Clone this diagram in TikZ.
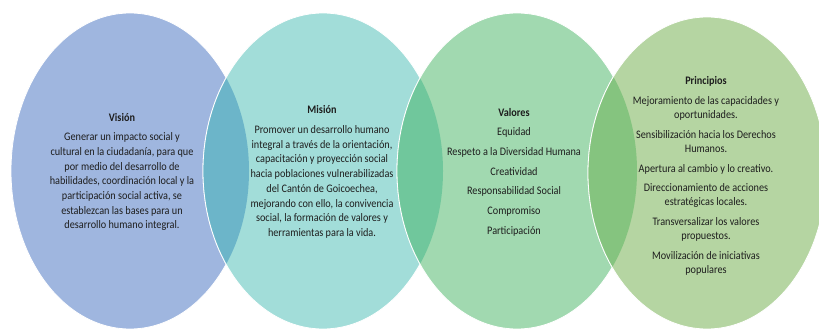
\documentclass[tikz,border=0pt]{standalone}
\usepackage{fontspec}
\setmainfont{Carlito}[FakeStretch=0.89]
\definecolor{azul}{HTML}{9FB6DF}
\definecolor{turquesa}{HTML}{A2DDD9}
\definecolor{verde}{HTML}{A1D9B0}
\definecolor{oliva}{HTML}{B5D5A2}
\definecolor{cruceA}{HTML}{6CB5C9}
\definecolor{cruceB}{HTML}{70C79C}
\definecolor{cruceC}{HTML}{85C47F}
\definecolor{letra}{HTML}{1E1E1E}

\begin{document}
\begin{tikzpicture}[x=1pt, y=-1pt,
  ovalo/.style={draw=white, line width=0.8pt},
  bloque/.style={align=center, text=letra, inner sep=0pt, font=\fontsize{11.5}{14.7}\selectfont}]
\useasboundingbox (0,0) rectangle (819,329);

\coordinate (cv) at (130,171);
\coordinate (cm) at (323,171);
\coordinate (cr) at (517,171);
\coordinate (cp) at (707,173);

\fill[azul, ovalo] (cv) ellipse [x radius=119pt, y radius=158pt];
\fill[turquesa, ovalo] (cm) ellipse [x radius=120pt, y radius=158pt];
\fill[verde, ovalo] (cr) ellipse [x radius=120pt, y radius=158pt];
\fill[oliva, ovalo] (cp) ellipse [x radius=119pt, y radius=156pt];

% zonas de cruce
\begin{scope}
\clip (cv) ellipse [x radius=119pt, y radius=158pt];
\filldraw[cruceA, ovalo] (cm) ellipse [x radius=120pt, y radius=158pt];
\end{scope}
\begin{scope}
\clip (cm) ellipse [x radius=120pt, y radius=158pt];
\filldraw[cruceB, ovalo] (cr) ellipse [x radius=120pt, y radius=158pt];
\end{scope}
\begin{scope}
\clip (cr) ellipse [x radius=120pt, y radius=158pt];
\filldraw[cruceC, ovalo] (cp) ellipse [x radius=119pt, y radius=156pt];
\end{scope}

\node (vision) [bloque] at (122,172) {\textbf{Visión}\\[5pt]
Generar un impacto social y\\
cultural en la ciudadanía, para que\\
por medio del desarrollo de\\
habilidades, coordinación local y la\\
participación social activa, se\\
establezcan las bases para un\\
desarrollo humano integral.};

\node (mision) [bloque] at (322,172) {\textbf{Misión}\\[5pt]
Promover un desarrollo humano\\
integral a través de la orientación,\\
capacitación y proyección social\\
hacia poblaciones vulnerabilizadas\\
del Cantón de Goicoechea,\\
mejorando con ello, la convivencia\\
social, la formación de valores y\\
herramientas para la vida.};

\node (valores) [bloque] at (514,172) {\textbf{Valores}\\[5pt]
Equidad\\[5pt]
Respeto a la Diversidad Humana\\[5pt]
Creatividad\\[5pt]
Responsabilidad Social\\[5pt]
Compromiso\\[5pt]
Participación};

\node (principios) [bloque] at (706,176) {\textbf{Principios}\\[5pt]
Mejoramiento de las capacidades y\\
oportunidades.\\[4.5pt]
Sensibilización hacia los Derechos\\
Humanos.\\[4.5pt]
Apertura al cambio y lo creativo.\\[4.5pt]
Direccionamiento de acciones\\
estratégicas locales.\\[4.5pt]
Transversalizar los valores\\
propuestos.\\[4.5pt]
Movilización de iniciativas\\
populares};
\end{tikzpicture}
\end{document}
